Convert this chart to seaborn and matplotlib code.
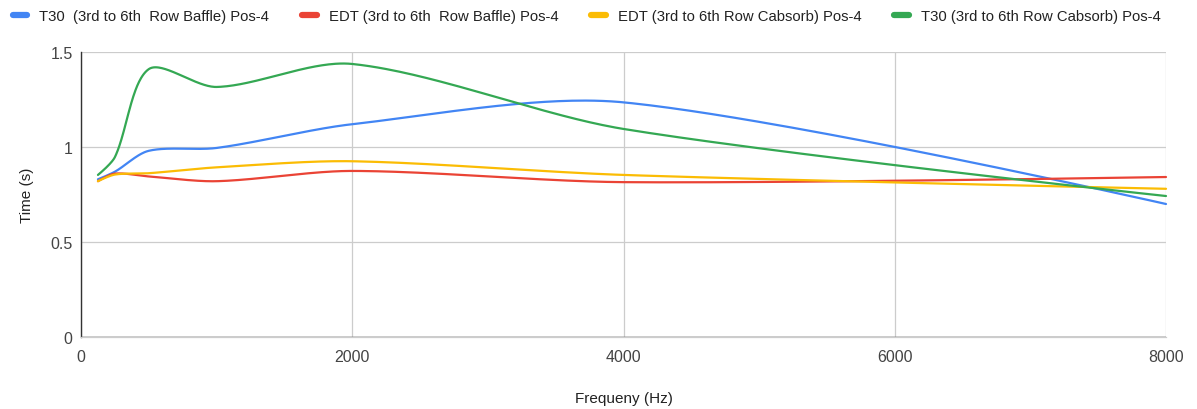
import numpy as np
import pandas as pd
import matplotlib
matplotlib.use("Agg")
import matplotlib.pyplot as plt
import seaborn as sns

# Octave-band centre frequencies (Hz)
freqs = [125, 250, 500, 1000, 2000, 4000, 8000]

# Reverberation times (s) at position 4
t30_baffle = [0.83, 0.87, 0.98, 0.995, 1.12, 1.235, 0.70]
edt_baffle = [0.82, 0.86, 0.845, 0.82, 0.874, 0.815, 0.842]
edt_cabsorb = [0.82, 0.855, 0.862, 0.893, 0.925, 0.853, 0.78]
t30_cabsorb = [0.853, 0.947, 1.41, 1.316, 1.437, 1.095, 0.742]

series_names = [
    "T30  (3rd to 6th  Row Baffle) Pos-4",
    "EDT (3rd to 6th  Row Baffle) Pos-4",
    "EDT (3rd to 6th Row Cabsorb) Pos-4",
    "T30 (3rd to 6th Row Cabsorb) Pos-4",
]
series_values = [t30_baffle, edt_baffle, edt_cabsorb, t30_cabsorb]
colors = ["#4285F4", "#EA4335", "#FBBC04", "#34A853"]

x_ticks = [0, 2000, 4000, 6000, 8000]
y_ticks = [0, 0.5, 1, 1.5]
X_MAX, Y_MAX = 8000, 1.5


def smooth_path(xs, ys, t=0.3, n=60):
    """Bezier smoothing with control arms scaled by neighbouring segment lengths."""
    sx, sy = 1085.0 / X_MAX, 285.0 / Y_MAX
    P = np.column_stack([np.asarray(xs, float) * sx, np.asarray(ys, float) * sy])
    m = len(P)
    c_in = [p.copy() for p in P]
    c_out = [p.copy() for p in P]
    for i in range(1, m - 1):
        d01 = np.linalg.norm(P[i] - P[i - 1])
        d12 = np.linalg.norm(P[i + 1] - P[i])
        fa = t * d01 / (d01 + d12)
        fb = t * d12 / (d01 + d12)
        c_in[i] = P[i] - fa * (P[i + 1] - P[i - 1])
        c_out[i] = P[i] + fb * (P[i + 1] - P[i - 1])
    out = []
    for i in range(m - 1):
        p1, c1, c2, p2 = P[i], c_out[i], c_in[i + 1], P[i + 1]
        u = np.linspace(0, 1, n, endpoint=(i == m - 2))[:, None]
        seg = ((1 - u) ** 3) * p1 + 3 * ((1 - u) ** 2) * u * c1 + 3 * (1 - u) * u ** 2 * c2 + u ** 3 * p2
        out.append(seg)
    pts = np.vstack(out)
    return pts[:, 0] / sx, pts[:, 1] / sy


frames = []
for name, vals in zip(series_names, series_values):
    sx_, sy_ = smooth_path(freqs, vals)
    frames.append(pd.DataFrame({"freq": sx_, "time": sy_, "series": name}))
df = pd.concat(frames, ignore_index=True)

sns.set_theme(style="white")
plt.rcParams["font.family"] = ["Liberation Sans", "DejaVu Sans"]

fig = plt.figure(figsize=(11.97, 4.10), dpi=100)
ax = fig.add_axes([81 / 1197, 72 / 410, 1085 / 1197, 285 / 410])

sns.lineplot(data=df, x="freq", y="time", hue="series", hue_order=series_names,
             palette=colors, sort=False, estimator=None,
             linewidth=1.6, ax=ax, legend=False, zorder=4)
for line in ax.lines:
    line.set_solid_capstyle("round")
    line.set_clip_on(False)

ax.set_xlim(0, X_MAX)
ax.set_ylim(0, Y_MAX)
ax.set_xticks(x_ticks)
ax.set_yticks(y_ticks)
ax.set_yticklabels(["0", "0.5", "1", "1.5"])
ax.grid(True, color="#cccccc", linewidth=0.9)
ax.set_axisbelow(True)
for s in ["top", "right"]:
    ax.spines[s].set_visible(False)
ax.spines["left"].set_color("#333333")
ax.spines["left"].set_linewidth(1.0)
ax.spines["bottom"].set_color("#cccccc")
ax.spines["bottom"].set_linewidth(0.9)
ax.axhline(0, color="#333333", linewidth=1.0, zorder=3)
ax.tick_params(axis="both", length=0, labelsize=11.5, colors="#444444", pad=6)
ax.tick_params(axis="x", pad=9)
ax.set_xlabel("Frequeny (Hz)", fontsize=11, color="#222222", labelpad=19)
ax.set_ylabel("Time (s)", fontsize=11, color="#222222", labelpad=12)

handles = [plt.Line2D([0], [0], color=c, linewidth=4.5, solid_capstyle="round")
           for c in colors]
fig.legend(handles, series_names, loc="upper center", bbox_to_anchor=(0.49, 1.008),
           ncol=4, frameon=False, fontsize=10.7, handlelength=1.0, handletextpad=0.8,
           columnspacing=2.2, labelcolor="#222222")

fig.savefig("out.png", dpi=100, facecolor="white")
